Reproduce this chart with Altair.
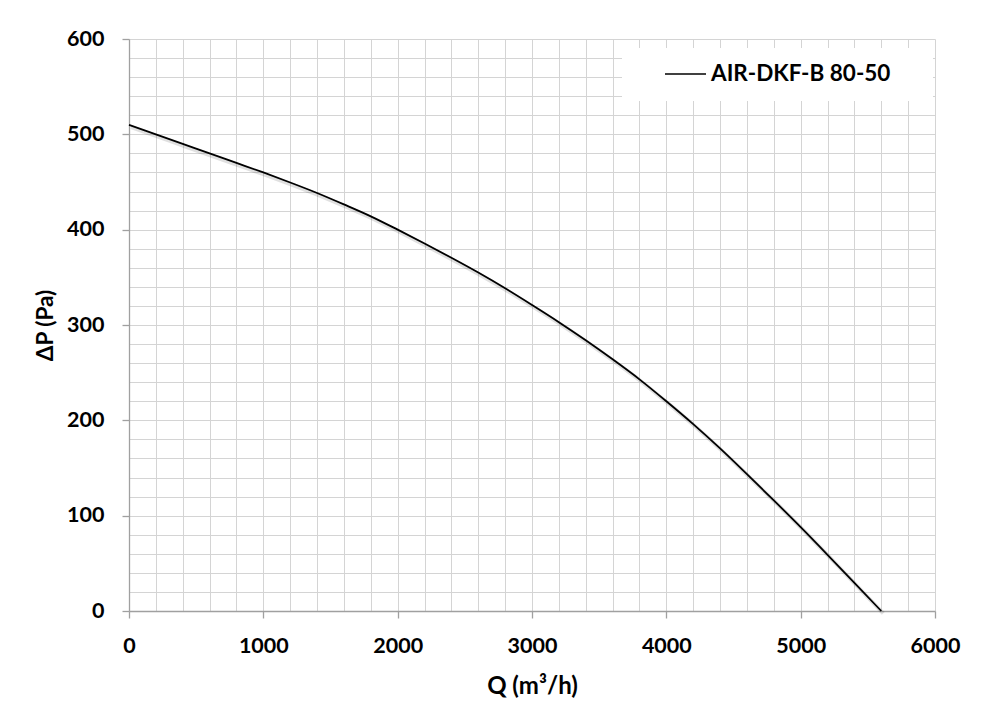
import altair as alt
import pandas as pd

# Fan curve
q = [0, 200, 400, 600, 800, 1000, 1200, 1400, 1600, 1800, 2000, 2200, 2400, 2600,
     2800, 3000, 3200, 3400, 3600, 3800, 4000, 4200, 4400, 4600, 4800, 5000, 5200,
     5400, 5600]
dp = [510, 500, 490, 480, 470, 460, 449.5, 438.5, 426.5, 414, 400, 385.5, 370.5, 355,
      338.5, 321, 303, 284, 264, 243, 220, 196, 170.5, 143.5, 116, 88, 59,
      29.5, 0]
series_name = ["AIR-DKF-B 80-50"]

x_ticks = list(range(0, 6001, 200))
y_ticks = list(range(0, 601, 20))
x_title = "Q (m³/h)"
y_title = "ΔP (Pa)"

FONT = "Lato"
GRID = "#d4d4d4"
AXIS = "#a0a0a0"
W, H = 806, 572

df = pd.DataFrame({"Q": q, "dP": dp})
leg = pd.DataFrame({"s": series_name})

major_x = "datum.value % 1000 === 0"
major_y = "datum.value % 100 === 0"

x_axis = alt.Axis(
    values=x_ticks, format="d", grid=True, gridColor=GRID, gridWidth=1,
    domainColor=AXIS, domainWidth=1.3, tickColor=AXIS, tickWidth=1.3, tickSize=7,
    tickOpacity={"condition": {"test": major_x, "value": 1}, "value": 0},
    labelExpr=f"{major_x} ? datum.label : ''", labelOverlap=False, labelFlush=False,
    labelBound=False, labelFont=FONT, labelFontSize=21.5, labelFontWeight="bold",
    labelColor="#000000", labelPadding=17,
    title=x_title, titleFont=FONT, titleFontSize=24, titleFontWeight="bold",
    titleColor="#000000", titleX=W / 2, titleY=75, titleBaseline="middle",
    titleAlign="center",
)
y_axis = alt.Axis(
    values=y_ticks, format="d", grid=True, gridColor=GRID, gridWidth=1,
    domainColor=AXIS, domainWidth=1.3, tickColor=AXIS, tickWidth=1.3, tickSize=7,
    tickOpacity={"condition": {"test": major_y, "value": 1}, "value": 0},
    labelExpr=f"{major_y} ? datum.label : ''", labelOverlap=False, labelFlush=False,
    labelBound=False, labelFont=FONT, labelFontSize=21.5, labelFontWeight="bold",
    labelColor="#000000", labelPadding=18,
    title=y_title, titleFont=FONT, titleFontSize=22.5, titleFontWeight="bold",
    titleColor="#000000", titleX=-84, titleY=H / 2, titleAngle=270,
    titleBaseline="middle", titleAlign="center",
)

xs = alt.Scale(domain=[0, 6000], nice=False)
ys = alt.Scale(domain=[0, 600], nice=False)

shadow = alt.Chart(df).transform_calculate(
    Qs="datum.Q + 15", dPs="datum.dP - 2.5"
).mark_line(color="#000000", opacity=0.12, strokeWidth=4, interpolate="monotone").encode(
    x=alt.X("Qs:Q", scale=xs, axis=x_axis),
    y=alt.Y("dPs:Q", scale=ys, axis=y_axis),
)

curve = alt.Chart(df).mark_line(color="#000000", strokeWidth=1.8, interpolate="monotone").encode(
    x=alt.X("Q:Q", scale=xs, axis=x_axis),
    y=alt.Y("dP:Q", scale=ys, axis=y_axis),
)

leg_box = alt.Chart(leg).mark_rect(fill="white").encode(
    x=alt.value(493), x2=alt.value(804), y=alt.value(9), y2=alt.value(62)
)
leg_line = alt.Chart(leg).mark_rule(color="#000000", strokeWidth=1.5).encode(
    x=alt.value(536), x2=alt.value(577), y=alt.value(35)
)
leg_text = alt.Chart(leg).mark_text(
    align="left", baseline="middle", font=FONT, fontSize=22.5, fontWeight="bold",
    color="#000000"
).encode(x=alt.value(582), y=alt.value(35), text="s:N")

chart = alt.layer(shadow, curve, leg_box, leg_line, leg_text).properties(
    width=W, height=H,
    autosize=alt.AutoSizeParams(type="none"),
    padding={"left": 121, "top": 31, "right": 46, "bottom": 88},
    background="white",
).configure_view(stroke=None)

chart.save("out.html", embed_options={"renderer": "svg", "actions": False})
